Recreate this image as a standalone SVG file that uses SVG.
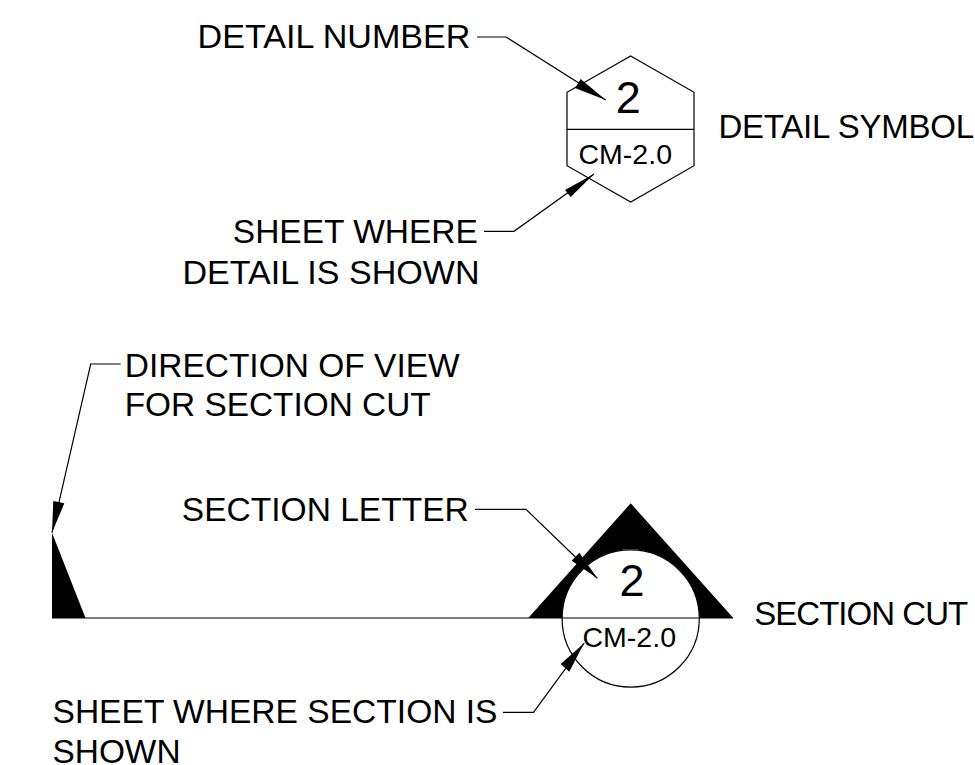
<svg xmlns="http://www.w3.org/2000/svg" width="975" height="765" viewBox="0 0 975 765">
<style>
text{font-family:"Liberation Sans",Arial,sans-serif;fill:#000;font-size:33.8px}
text.e{font-size:33px}
.s{font-size:28px}.b{font-size:45px}
.l{fill:none;stroke:#000;stroke-width:1.2}
.f{fill:#000;stroke:none}
</style>
<rect width="975" height="765" fill="#fff"/>
<g id="detail-symbol">
<polygon class="l" points="630.7,56 694,92.3 694,165.7 630.7,202 567,165.7 567,92.3"/>
<line class="l" x1="567" y1="129.3" x2="694" y2="129.3"/>
<text class="b" x="628.3" y="113" text-anchor="middle">2</text>
<text class="s" x="578.5" y="163.5" textLength="93.5" lengthAdjust="spacingAndGlyphs">CM-2.0</text>
<text class="e" x="718.5" y="137.5" textLength="255.5">DETAIL SYMBOL</text>
</g>
<g id="section-symbol">
<path class="f" d="M528.3,618 L630.7,503.3 L733.3,618 L699.3,618 A68.6,68.6 0 0 0 562,618 Z"/>
<circle class="l" cx="630.7" cy="618.5" r="68.6"/>
<line class="l" x1="52" y1="618" x2="733" y2="618"/>
<text class="b" x="632" y="596" text-anchor="middle">2</text>
<text class="s" x="582.5" y="646.5" textLength="93.5" lengthAdjust="spacingAndGlyphs">CM-2.0</text>
<text class="e" x="754.2" y="624.5" textLength="214">SECTION CUT</text>
</g>
<g id="view-direction">
<polygon class="f" points="52,532.7 52,618 85.5,618"/>
<text x="124.7" y="376.5" textLength="335" lengthAdjust="spacingAndGlyphs">DIRECTION OF VIEW</text>
<text x="124.7" y="416" textLength="306" lengthAdjust="spacingAndGlyphs">FOR SECTION CUT</text>
</g>
<g id="labels">
<text x="197.5" y="48" textLength="273" lengthAdjust="spacingAndGlyphs">DETAIL NUMBER</text>
<text x="232.8" y="243" textLength="245" lengthAdjust="spacingAndGlyphs">SHEET WHERE</text>
<text x="182.5" y="284" textLength="297" lengthAdjust="spacingAndGlyphs">DETAIL IS SHOWN</text>
<text x="181.8" y="520.5" textLength="287" lengthAdjust="spacingAndGlyphs">SECTION LETTER</text>
<text x="52.5" y="723" textLength="445" lengthAdjust="spacingAndGlyphs">SHEET WHERE SECTION IS</text>
<text x="52.5" y="763" textLength="128" lengthAdjust="spacingAndGlyphs">SHOWN</text>
</g>
<g id="connectors">
<polyline class="l" points="477,37 506,37 605.7,100"/>
<polygon class="f" points="605.7,100 575,88 580.7,79"/>
<polyline class="l" points="484,231.3 514,231.3 594,174"/>
<polygon class="f" points="594,174 565,190 570.7,197"/>
<polyline class="l" points="120.7,364 90.7,364 52,532.7"/>
<polygon class="f" points="52,532.7 53.3,501 64.3,503.3"/>
<polyline class="l" points="475,509.3 526,509.3 597.3,578.3"/>
<polygon class="f" points="597.3,578.3 571.7,560.7 579.3,552.7"/>
<polyline class="l" points="503,712.3 533.5,712.3 584,643.3"/>
<polygon class="f" points="584,643.3 560.7,664 569.3,671.7"/>
</g>
</svg>
